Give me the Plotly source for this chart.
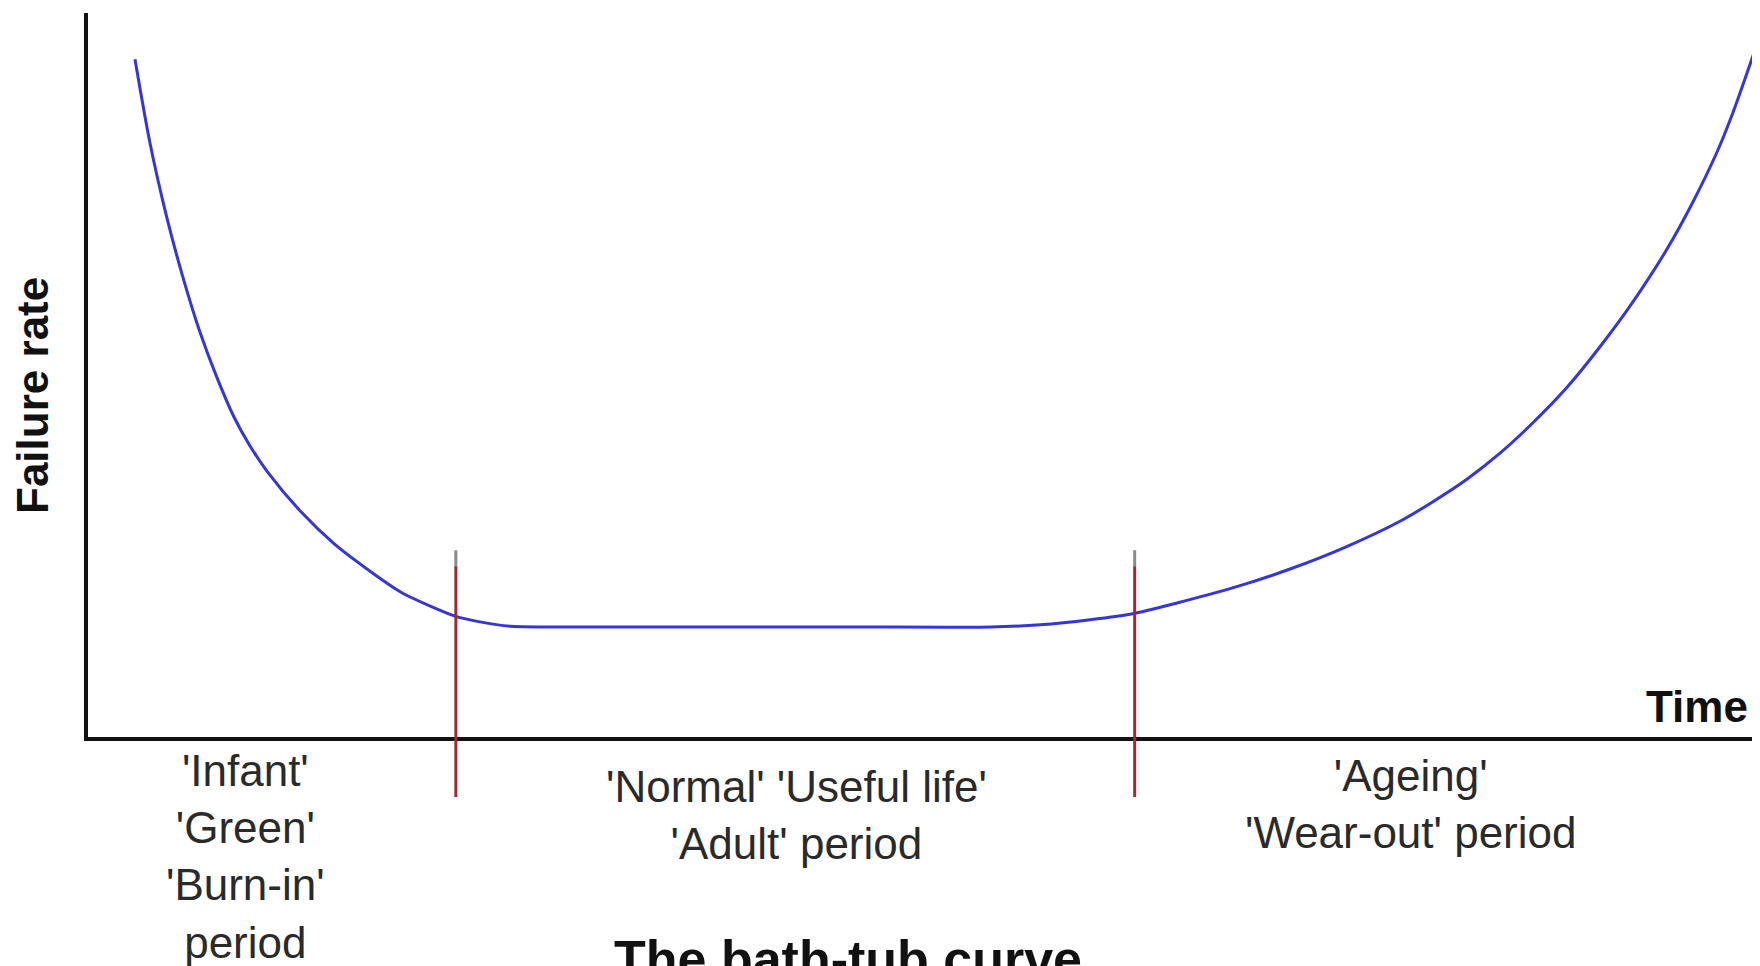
import plotly.graph_objects as go

# Bath-tub curve (time in % of axis length, failure rate 0-10)
time = [2.81, 3.71, 4.72, 5.74, 6.70, 7.72, 8.73, 9.69, 10.71, 12.74, 14.71, 16.75, 18.72,
        20.75, 21.95, 23.44, 25.24, 27.63, 36.6, 45.57, 54.0, 56.94, 59.93, 62.62,
        65.61, 68.90, 71.89, 75.18, 78.47, 80.44, 82.47, 84.45, 86.42, 88.46, 90.43,
        92.40, 94.44, 95.99, 97.43, 98.39, 99.70]
failure_rate = [9.36, 8.20, 7.17, 6.30, 5.59, 4.96, 4.42, 4.02, 3.67, 3.11, 2.67, 2.31, 2.00,
                1.78, 1.67, 1.59, 1.53, 1.52, 1.52, 1.52, 1.52, 1.55, 1.62, 1.71,
                1.88, 2.09, 2.32, 2.62, 2.98, 3.25, 3.56, 3.92, 4.34, 4.83, 5.39,
                6.01, 6.74, 7.39, 8.08, 8.63, 9.49]

phase_boundaries = [22.0, 62.6]
phase_labels = ["'Infant'<br>'Green'<br>'Burn-in'<br>period",
                "'Normal' 'Useful life'<br>'Adult' period",
                "'Ageing'<br>'Wear-out' period"]
phase_label_time = [9.4, 42.4, 79.1]
x_title = "Time"
y_title = "Failure rate"
chart_title = "The bath-tub curve"

FONT = "Arial, 'Liberation Sans', Helvetica, sans-serif"

fig = go.Figure()
fig.add_trace(go.Scatter(
    x=time, y=failure_rate, mode="lines",
    line=dict(color="#3535d8", width=3, shape="spline", smoothing=0.8),
    hoverinfo="skip", showlegend=False,
))

shapes = []
for b in phase_boundaries:
    shapes.append(dict(type="line", xref="x", yref="paper", x0=b, x1=b,
                       y0=-0.083, y1=0.236, line=dict(color="#a8262e", width=3)))
    shapes.append(dict(type="line", xref="x", yref="paper", x0=b, x1=b,
                       y0=0.236, y1=0.258, line=dict(color="#8a8a8a", width=3)))

label_y = [-0.1657, -0.1077, -0.0925]
annotations = []
for txt, t, yy in zip(phase_labels, phase_label_time, label_y):
    annotations.append(dict(text=txt, x=t, xref="x", y=yy, yref="paper",
                            xanchor="center", yanchor="middle", showarrow=False,
                            align="center",
                            font=dict(family=FONT, size=44, color="#2a2a2a")))

annotations.append(dict(text="<b>%s</b>" % x_title, x=0.9623, xref="paper", y=0.0428,
                        yref="paper", xanchor="center", yanchor="middle",
                        showarrow=False, font=dict(family=FONT, size=44, color="#111111")))
annotations.append(dict(text="<b>%s</b>" % y_title, x=-0.0329, xref="paper", y=0.4724,
                        yref="paper", xanchor="center", yanchor="middle", textangle=-90,
                        showarrow=False, font=dict(family=FONT, size=44, color="#111111")))
annotations.append(dict(text="<b>%s</b>" % chart_title, x=0.4545, xref="paper", y=-0.306,
                        yref="paper", xanchor="center", yanchor="middle",
                        showarrow=False, font=dict(family=FONT, size=52, color="#111111")))

axis_common = dict(showline=True, linewidth=4, linecolor="#111111", showgrid=False,
                   zeroline=False, showticklabels=False, ticks="", fixedrange=True)

# The page body adds an 8px margin, so the figure is 8px smaller than the window.
fig.update_layout(
    width=1752, height=958,
    margin=dict(l=80, r=0, t=5, b=229, pad=0),
    paper_bgcolor="white", plot_bgcolor="white",
    xaxis=dict(range=[0, 100], **axis_common),
    yaxis=dict(range=[0, 10], **axis_common),
    shapes=shapes, annotations=annotations,
    showlegend=False,
)

fig.write_html("out.html")
